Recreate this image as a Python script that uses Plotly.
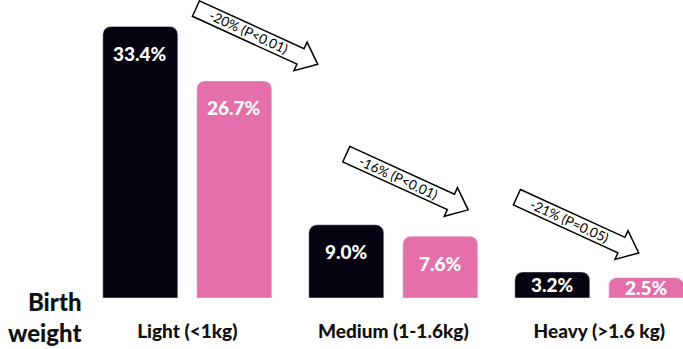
import math
import plotly.graph_objects as go

# ---------------- data ----------------
categories = ["Light (<1kg)", "Medium (1-1.6kg)", "Heavy (>1.6 kg)"]
series_a = [33.4, 9.0, 3.2]          # black bars
series_b = [26.7, 7.6, 2.5]          # pink bars
label_a = ["33.4%", "9.0%", "3.2%"]
label_b = ["26.7%", "7.6%", "2.5%"]
arrow_texts = ["-20% (P<0.01)", "-16% (P<0.01)", "-21% (P=0.05)"]
arrow_x = [0.042, 0.772, 1.600]      # arrow tail position (category units)
arrow_y = [35.6, 17.7, 12.4]         # arrow tail position (value units)
axis_title = "Birth<br>weight"

# ---------------- layout constants ----------------
W, H = 683, 349
M_L, M_R, M_T, M_B = 0, 0, 0, 51
X_RANGE = [-0.9092, 2.4063]
Y_RANGE = [0, 36.65]
PW = W - M_L - M_R
PH = H - M_T - M_B
DARK = "#05030F"
PINK = "#E46FAA"
FONT = "Lato"

fig = go.Figure()
fig.add_trace(go.Bar(x=categories, y=series_a, marker=dict(color=DARK, cornerradius=8),
                     hoverinfo="skip"))
fig.add_trace(go.Bar(x=categories, y=series_b, marker=dict(color=PINK, cornerradius=8),
                     hoverinfo="skip"))

ppu = PH / (Y_RANGE[1] - Y_RANGE[0])
cat_px = PW / (X_RANGE[1] - X_RANGE[0])
slot = cat_px * (1 - 0.0874) / 2

annotations = []
for i, cat in enumerate(categories):
    for vals, labs, sign in ((series_a, label_a, -1), (series_b, label_b, 1)):
        h = vals[i] * ppu
        annotations.append(dict(
            x=cat, xref="x", y=vals[i], yref="y", text=labs[i], showarrow=False,
            xshift=sign * slot / 2, yshift=-min(27, h / 2), yanchor="middle",
            font=dict(family=FONT, size=19, color="white", weight=900)))

# arrows
ang = math.radians(24.6)
ux, uy = math.cos(ang), math.sin(ang)
nx, ny = -math.sin(ang), math.cos(ang)
L, HL, BW, HW = 134, 19, 8.5, 15.75
local = [(0, -BW), (L - HL, -BW), (L - HL, -HW), (L, 0), (L - HL, HW), (L - HL, BW), (0, BW)]
shapes = []
for t, ax_, ay_ in zip(arrow_texts, arrow_x, arrow_y):
    sx = M_L + (ax_ - X_RANGE[0]) / (X_RANGE[1] - X_RANGE[0]) * PW
    sy = M_T + PH * (1 - (ay_ - Y_RANGE[0]) / (Y_RANGE[1] - Y_RANGE[0]))
    pts = []
    for s, n in local:
        px = sx + s * ux + n * nx
        py = sy + s * uy + n * ny
        pts.append(((px - M_L) / PW, 1 - (py - M_T) / PH))
    path = "M " + " L ".join(f"{a:.5f},{b:.5f}" for a, b in pts) + " Z"
    shapes.append(dict(type="path", path=path, xref="paper", yref="paper",
                       line=dict(color="black", width=1.5), fillcolor="white", layer="above"))
    cs = (L - HL) / 2
    cx = sx + cs * ux
    cy = sy + cs * uy
    annotations.append(dict(x=(cx - M_L) / PW, y=1 - (cy - M_T) / PH, xref="paper", yref="paper",
                            text=t, showarrow=False, textangle=24.6,
                            font=dict(family=FONT, size=13.5, color="black"),
                            xanchor="center", yanchor="middle"))

annotations.append(dict(x=84 / W, xref="paper", y=(PH - 317) / PH, yref="paper",
                        text=axis_title, showarrow=False, xanchor="right", yanchor="middle",
                        align="right",
                        font=dict(family=FONT, size=24, color="#111111", weight=900)))

fig.update_layout(
    width=W, height=H,
    margin=dict(l=M_L, r=M_R, t=M_T, b=M_B, pad=0),
    barmode="group", bargap=0.0874, bargroupgap=0.202,
    showlegend=False,
    plot_bgcolor="white", paper_bgcolor="white",
    xaxis=dict(range=X_RANGE, showgrid=False, zeroline=False, showline=False,
               ticks="outside", ticklen=16, tickcolor="rgba(0,0,0,0)",
               tickfont=dict(family=FONT, size=19, color="#111111", weight=900),
               fixedrange=True),
    yaxis=dict(range=Y_RANGE, visible=False, fixedrange=True),
    shapes=shapes, annotations=annotations,
)

fig.write_html("out.html", config={"displayModeBar": False})
